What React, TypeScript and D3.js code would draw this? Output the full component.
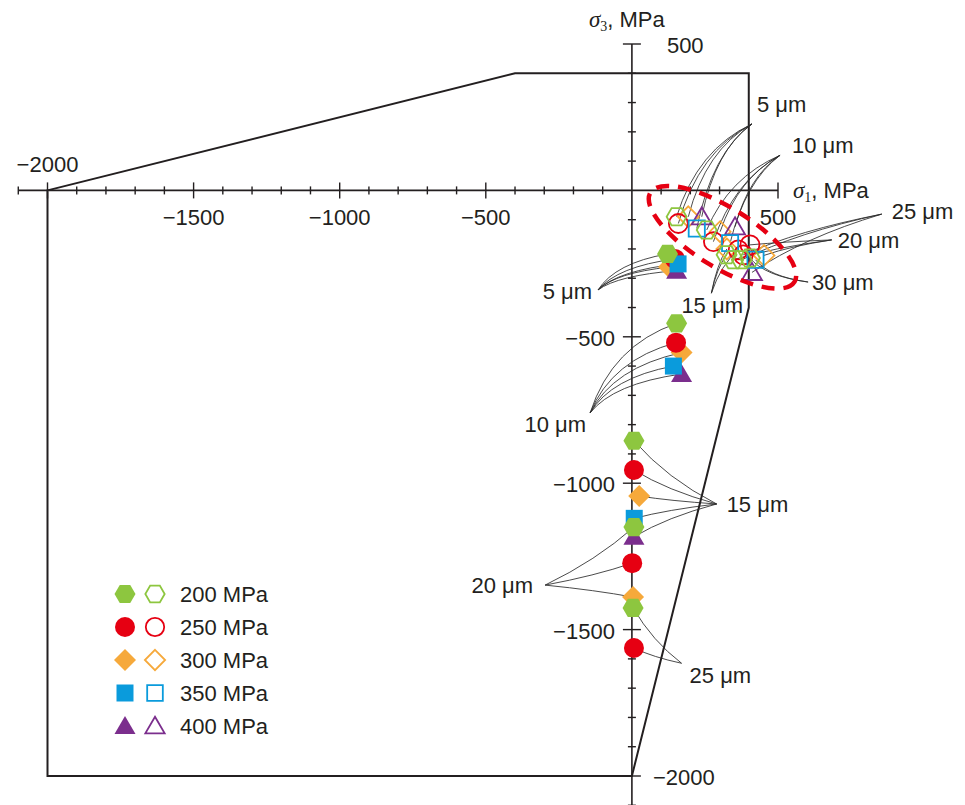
import React from 'react';
import * as d3 from 'd3';

const WIDTH = 965;
const HEIGHT = 805;

// axes
const xDomain = [-2000, 500];
const yDomain = [500, -2000];
const axisMin = -2100;
const axisMax = 500;
const tickStep = 100;
const xTickLabels = [-2000, -1500, -1000, -500, 500];
const yTickLabels = [500, -500, -1000, -1500, -2000];

// failure envelope (σ1, σ3)
const envelope = [[-2000, 0], [-400, 400], [400, 400], [400, -400], [0, -2000], [-2000, -2000]];

// series
const seriesNames = ['200 MPa', '250 MPa', '300 MPa', '350 MPa', '400 MPa'];
const seriesColors = ['#8DC63F', '#E60012', '#F6A93B', '#0A9BDC', '#7B2E8D'];
const seriesShapes = ['hexagon', 'circle', 'diamond', 'square', 'triangle'];

// filled markers: [thickness μm, σ1, σ3]
const solid200 = [[5, 122, -217], [10, 153, -454], [15, 7, -855], [20, 7, -1150], [25, 4, -1426]];
const solid250 = [[5, 147, -234], [10, 151, -520], [15, 7, -955], [20, 1, -1273], [25, 7, -1563]];
const solid300 = [[5, 127, -262], [10, 170, -554], [15, 25, -1044], [20, 4, -1389]];
const solid350 = [[5, 158, -251], [10, 142, -600], [15, 8, -1120]];
const solid400 = [[5, 153, -274], [10, 170, -627], [15, 7, -1183]];

// hollow markers: [thickness μm, σ1, σ3]
const hollow200 = [[5, 153, -90], [10, 256, -135], [15, 324, -220], [20, 347, -237], [25, 376, -237], [30, 404, -231]];
const hollow250 = [[5, 159, -113], [10, 279, -175], [15, 364, -203], [20, 404, -186], [25, 381, -220]];
const hollow300 = [[5, 193, -90], [10, 302, -141], [15, 325, -200], [20, 452, -222]];
const hollow350 = [[5, 222, -130], [10, 336, -180], [30, 423, -237]];
const hollow400 = [[5, 239, -90], [10, 353, -124], [25, 411, -280]];

const solidSeries = [solid200, solid250, solid300, solid350, solid400];
const hollowSeries = [hollow200, hollow250, hollow300, hollow350, hollow400];

// thickness annotations: label, which marker set, thickness, hub (σ1, σ3)
const annoLabels = ['5 μm', '10 μm', '15 μm', '20 μm', '25 μm', '30 μm', '5 μm', '10 μm', '15 μm', '20 μm', '25 μm'];
const annoKinds = ['hollow', 'hollow', 'hollow', 'hollow', 'hollow', 'hollow', 'solid', 'solid', 'solid', 'solid', 'solid'];
const annoThickness = [5, 10, 15, 20, 25, 30, 5, 10, 15, 20, 25];
const annoHubs = [[411, 227], [507, 120], [272, -351], [684, -169], [855, -81], [603, -313], [-116, -340], [-143, -760], [290, -1071], [-297, -1348], [170, -1615]];
// layout of annotation text relative to hub and curvature of leader lines
const annoLayout = [
  { dx: 5, dy: -12, anchor: 'start', mode: 'h', k: 0.45 },
  { dx: 12, dy: -2, anchor: 'start', mode: 'h', k: 0.4 },
  { dx: -30, dy: 20, anchor: 'start', mode: 'v', k: 0.3 },
  { dx: 6, dy: 8, anchor: 'start', mode: 'h', k: 0.2 },
  { dx: 10, dy: 5, anchor: 'start', mode: 'h', k: 0.2 },
  { dx: 4, dy: 8, anchor: 'start', mode: 'h', k: 0.5 },
  { dx: -6, dy: 9, anchor: 'end', mode: 'v', k: 0.5 },
  { dx: -4, dy: 19, anchor: 'end', mode: 'v', k: 0.5 },
  { dx: 10, dy: 8, anchor: 'start', mode: 'h', k: 0.2 },
  { dx: -12, dy: 8, anchor: 'end', mode: 'h', k: 0.15 },
  { dx: 8, dy: 20, anchor: 'start', mode: 'h', k: 0.2 },
];

// dashed ellipse around the hollow cluster (σ1, σ3, radii in MPa, angle in deg)
const ellipseCenter = [310, -160];
const ellipseRadii = [290, 102];
const ellipseAngle = 31.8;

const FONT = "'Liberation Sans', Arial, Helvetica, sans-serif";
const SERIF = "'Liberation Serif', 'Times New Roman', serif";
const INK = '#231F20';

function shapePath(shape: string, s: number): string {
  if (shape === 'hexagon') {
    const r = 10.5 * s;
    const pts = d3.range(6).map((i) => {
      const a = (Math.PI / 3) * i;
      return [r * Math.cos(a), r * Math.sin(a)];
    });
    return 'M' + pts.map((p) => p[0].toFixed(2) + ',' + p[1].toFixed(2)).join('L') + 'Z';
  }
  if (shape === 'circle') {
    const r = 10 * s;
    return `M${-r},0a${r},${r} 0 1,0 ${2 * r},0a${r},${r} 0 1,0 ${-2 * r},0Z`;
  }
  if (shape === 'diamond') {
    const r = 11 * s;
    return `M0,${-r}L${r},0L0,${r}L${-r},0Z`;
  }
  if (shape === 'square') {
    const h = 8.5 * s;
    return `M${-h},${-h}L${h},${-h}L${h},${h}L${-h},${h}Z`;
  }
  const w = 10.5 * s;
  return `M0,${-10 * s}L${w},${8 * s}L${-w},${8 * s}Z`;
}

export default function App() {
  const x = d3.scaleLinear().domain(xDomain).range([47.5, 778]);
  const y = d3.scaleLinear().domain(yDomain).range([44, 776]);
  const x0 = x(0);
  const y0 = y(0);

  const ticks = d3.range(axisMin, axisMax + 1, tickStep);
  const envLine = d3.line<number[]>().x((d) => x(d[0])).y((d) => y(d[1]));

  const drawOrder = [2, 4, 1, 3, 0]; // diamond, triangle, circle, square, hexagon

  const leaders: { d: string }[] = [];
  annoLabels.forEach((_, i) => {
    const set = annoKinds[i] === 'hollow' ? hollowSeries : solidSeries;
    const sx = x(annoHubs[i][0]);
    const sy = y(annoHubs[i][1]);
    const L = annoLayout[i];
    set.forEach((series) => {
      series.forEach((p) => {
        if (p[0] !== annoThickness[i]) return;
        const tx = x(p[1]);
        const ty = y(p[2]);
        const mx = (sx + tx) / 2;
        const my = (sy + ty) / 2;
        const cx0 = L.mode === 'h' ? tx : sx;
        const cy0 = L.mode === 'h' ? sy : ty;
        const cx = mx + L.k * (cx0 - mx);
        const cy = my + L.k * (cy0 - my);
        const path = d3.path();
        path.moveTo(sx, sy);
        path.quadraticCurveTo(cx, cy, tx, ty);
        leaders.push({ d: path.toString() });
      });
    });
  });

  return (
    <svg
      width={WIDTH}
      height={HEIGHT}
      style={{ position: 'absolute', left: 0, top: 0, background: '#fff' }}
      fontFamily={FONT}
    >
      <rect x={0} y={0} width={WIDTH} height={HEIGHT} fill="#fff" />

      {/* envelope */}
      <path d={envLine(envelope) + 'Z'} fill="none" stroke={INK} strokeWidth={2} strokeLinejoin="miter" />

      {/* x axis */}
      <line x1={x(axisMin)} x2={x(axisMax)} y1={y0} y2={y0} stroke={INK} strokeWidth={1.6} />
      {ticks.map((t) => {
        const major = t % 500 === 0;
        if (t === 0) return null;
        return (
          <line key={'xt' + t} x1={x(t)} x2={x(t)} y1={y0 - (major ? 8 : 4)} y2={y0 + (major ? 8 : 4)} stroke={INK} strokeWidth={1.4} />
        );
      })}
      {/* y axis */}
      <line x1={x0} x2={x0} y1={y(axisMax)} y2={y(axisMin)} stroke={INK} strokeWidth={1.6} />
      {ticks.map((t) => {
        const major = t % 500 === 0;
        if (t === 0) return null;
        return (
          <line key={'yt' + t} x1={x0 - (major ? 9 : 4)} x2={x0 + (major ? 9 : 4)} y1={y(t)} y2={y(t)} stroke={INK} strokeWidth={1.4} />
        );
      })}

      {/* x tick labels */}
      {xTickLabels.map((t) => (
        <text
          key={'xl' + t}
          x={x(t)}
          y={t === -2000 ? y0 - 18 : y0 + 35}
          textAnchor="middle"
          fontSize={22}
          fill={INK}
        >
          {t < 0 ? '\u2212' + Math.abs(t) : String(t)}
        </text>
      ))}
      {/* y tick labels */}
      {yTickLabels.map((t) => {
        const right = t === 500 || t === -2000;
        return (
          <text
            key={'yl' + t}
            x={t === 500 ? x0 + 35 : right ? x0 + 21 : x0 - 17}
            y={y(t) + 9}
            textAnchor={right ? 'start' : 'end'}
            fontSize={22}
            fill={INK}
          >
            {t < 0 ? '\u2212' + Math.abs(t) : String(t)}
          </text>
        );
      })}

      {/* axis titles */}
      <text x={x0 - 43} y={27} fontSize={22} fill={INK}>
        <tspan fontFamily={SERIF} fontStyle="italic" fontSize={23}>σ</tspan>
        <tspan fontFamily={SERIF} fontSize={14} dy={4}>3</tspan>
        <tspan dy={-4}>, MPa</tspan>
      </text>
      <text x={x(axisMax) + 15} y={y0 + 8} fontSize={22} fill={INK}>
        <tspan fontFamily={SERIF} fontStyle="italic" fontSize={23}>σ</tspan>
        <tspan fontFamily={SERIF} fontSize={14} dy={4}>1</tspan>
        <tspan dy={-4}>, MPa</tspan>
      </text>

      {/* leader lines */}
      {leaders.map((l, i) => (
        <path key={'ld' + i} d={l.d} fill="none" stroke="#2a2a2a" strokeWidth={0.85} />
      ))}

      {/* annotation labels */}
      {annoLabels.map((lab, i) => (
        <text
          key={'al' + i}
          x={x(annoHubs[i][0]) + annoLayout[i].dx}
          y={y(annoHubs[i][1]) + annoLayout[i].dy}
          textAnchor={annoLayout[i].anchor as any}
          fontSize={22}
          fill={INK}
        >
          {lab}
        </text>
      ))}

      {/* hollow markers */}
      {drawOrder.map((si) =>
        hollowSeries[si].map((p, j) => (
          <path
            key={'h' + si + '-' + j}
            d={shapePath(seriesShapes[si], 0.95)}
            transform={`translate(${x(p[1])},${y(p[2])})`}
            fill="none"
            stroke={seriesColors[si]}
            strokeWidth={1.8}
          />
        ))
      )}

      {/* filled markers */}
      {drawOrder.map((si) =>
        solidSeries[si].map((p, j) => (
          <path
            key={'s' + si + '-' + j}
            d={shapePath(seriesShapes[si], 1)}
            transform={`translate(${x(p[1])},${y(p[2])})`}
            fill={seriesColors[si]}
            stroke="none"
          />
        ))
      )}

      {/* dashed ellipse */}
      <ellipse
        cx={x(ellipseCenter[0])}
        cy={y(ellipseCenter[1])}
        rx={x(ellipseRadii[0]) - x(0)}
        ry={y(0) - y(ellipseRadii[1])}
        transform={`rotate(${ellipseAngle},${x(ellipseCenter[0])},${y(ellipseCenter[1])})`}
        fill="none"
        stroke="#E60012"
        strokeWidth={4.5}
        strokeDasharray="13 9"
      />

      {/* legend */}
      {seriesNames.map((name, i) => {
        const cy = 594 + i * 33;
        return (
          <g key={'lg' + i}>
            <path d={shapePath(seriesShapes[i], 1)} transform={`translate(125,${cy})`} fill={seriesColors[i]} />
            <path
              d={shapePath(seriesShapes[i], 0.92)}
              transform={`translate(155,${cy})`}
              fill="none"
              stroke={seriesColors[i]}
              strokeWidth={1.8}
            />
            <text x={180} y={cy + 8} fontSize={22} fill={INK}>
              {name}
            </text>
          </g>
        );
      })}
    </svg>
  );
}
